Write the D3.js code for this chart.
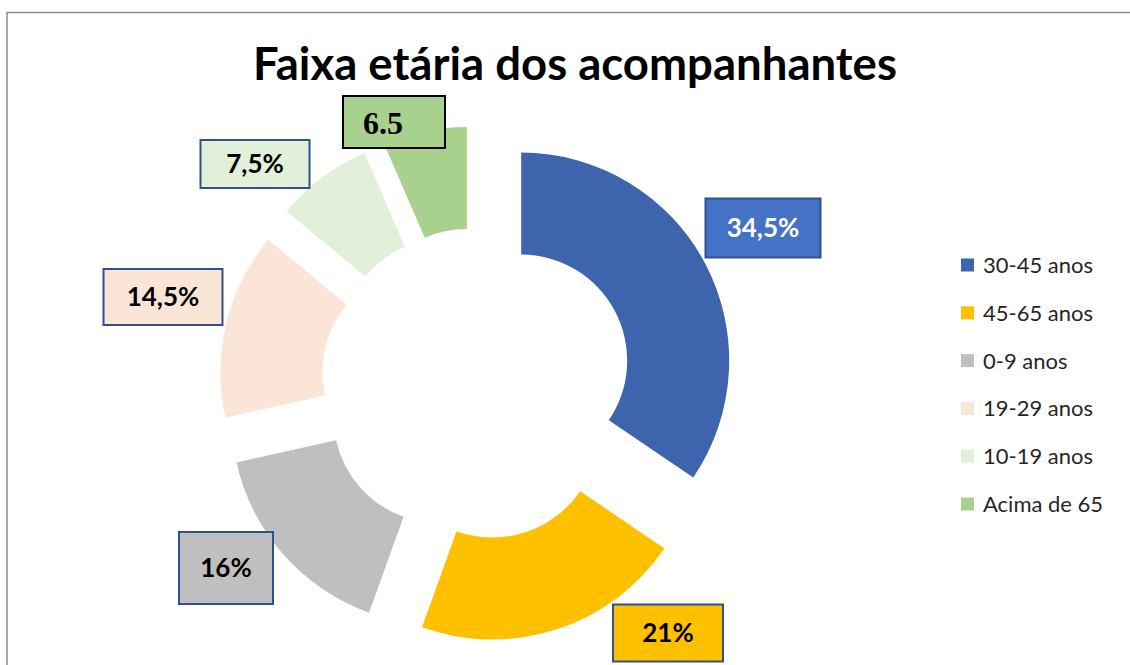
<!DOCTYPE html>
<html>
<head>
<meta charset="utf-8">
<script src="https://cdn.jsdelivr.net/npm/d3@7"></script>
<style>
  html, body { margin: 0; padding: 0; background: #ffffff; }
  svg { display: block; }
</style>
</head>
<body>
<script>
// Age groups of the companions and their shares (%)
const categories = ["30-45 anos", "45-65 anos", "0-9 anos", "19-29 anos", "10-19 anos", "Acima de 65"];
const shares = [34.5, 21, 16, 14.5, 7.5, 6.5];
const labelTexts = ["34,5%", "21%", "16%", "14,5%", "7,5%", "6.5"];
const colors = ["#3E64AD", "#FFC000", "#BFBFBF", "#FBE5D6", "#E2F0D9", "#A9D18E"];

// Label box layout: centre offset from the chart centre and box size
const labelLayout = [
  { dx: 286, dy: -156, w: 115, h: 59 },
  { dx: 191, dy: 249, w: 110, h: 57 },
  { dx: -251, dy: 184, w: 94, h: 72 },
  { dx: -314, dy: -87, w: 119, h: 56 },
  { dx: -222, dy: -220, w: 109, h: 48 },
  { dx: -83, dy: -262, w: 102, h: 52 }
];
const labelFill = ["#4472C4", "#FFC000", "#BFBFBF", "#FBE5D6", "#E2F0D9", "#A9D18E"];
const labelStroke = ["#2F528F", "#2F528F", "#2F528F", "#2F528F", "#2F528F", "#000000"];
const labelColor = ["#ffffff", "#000000", "#000000", "#000000", "#000000", "#000000"];

const W = 1130, H = 665;
const cx = 477, cy = 384;
const outerR = 208, innerR = 106, explode = 50;
const fontUI = "Lato, 'Open Sans', sans-serif";

const svg = d3.select("body").append("svg")
  .attr("width", W).attr("height", H);

// Chart area border (top and left edges visible)
svg.append("path")
  .attr("d", `M7,${H} L7,12.5 L${W},12.5`)
  .attr("fill", "none")
  .attr("stroke", "#8c8c8c")
  .attr("stroke-width", 1.5);

// Title
const title = svg.append("text")
  .attr("x", 575).attr("y", 80)
  .attr("text-anchor", "middle")
  .attr("font-family", fontUI)
  .attr("font-weight", 700)
  .attr("font-size", 44)
  .attr("fill", "#000")
  .text("Faixa etária dos acompanhantes");
{
  const len = title.node().getComputedTextLength();
  title.attr("font-size", 44 * 644 / len);
}

const pie = d3.pie().sort(null).value(d => d);
const arcs = pie(shares);
const arc = d3.arc().innerRadius(innerR).outerRadius(outerR);

const g = svg.append("g").attr("transform", `translate(${cx},${cy})`);

// Exploded doughnut slices
g.selectAll("path.slice")
  .data(arcs)
  .join("path")
  .attr("class", "slice")
  .attr("fill", (d, i) => colors[i])
  .attr("transform", d => {
    const mid = (d.startAngle + d.endAngle) / 2;
    return `translate(${explode * Math.sin(mid)},${-explode * Math.cos(mid)})`;
  })
  .attr("d", arc);

// Data labels in boxes
const lab = g.selectAll("g.lab")
  .data(arcs)
  .join("g")
  .attr("class", "lab")
  .attr("transform", (d, i) => `translate(${labelLayout[i].dx},${labelLayout[i].dy})`);

lab.append("rect")
  .attr("x", (d, i) => -labelLayout[i].w / 2)
  .attr("y", (d, i) => -labelLayout[i].h / 2)
  .attr("width", (d, i) => labelLayout[i].w)
  .attr("height", (d, i) => labelLayout[i].h)
  .attr("fill", (d, i) => labelFill[i])
  .attr("stroke", (d, i) => labelStroke[i])
  .attr("stroke-width", 2);

lab.append("text")
  .attr("text-anchor", "middle")
  .attr("dx", (d, i) => i === 5 ? -11 : 0)
  .attr("dy", (d, i) => i === 5 ? 12 : 9)
  .attr("font-family", (d, i) => i === 5 ? "'Liberation Serif', 'Times New Roman', serif" : fontUI)
  .attr("font-weight", 700)
  .attr("font-size", (d, i) => i === 5 ? 32 : 26)
  .attr("fill", (d, i) => labelColor[i])
  .text((d, i) => labelTexts[i]);

// Legend
const legendY = d3.scalePoint().domain(categories).range([265, 504]);
const leg = svg.append("g").selectAll("g")
  .data(categories)
  .join("g")
  .attr("transform", d => `translate(961,${legendY(d)})`);
leg.append("rect")
  .attr("x", 0).attr("y", -6.5)
  .attr("width", 13).attr("height", 13)
  .attr("fill", (d, i) => colors[i]);
leg.append("text")
  .attr("x", 22).attr("y", 8)
  .attr("font-family", fontUI)
  .attr("font-size", 22)
  .attr("fill", "#262626")
  .text(d => d);
</script>
</body>
</html>
